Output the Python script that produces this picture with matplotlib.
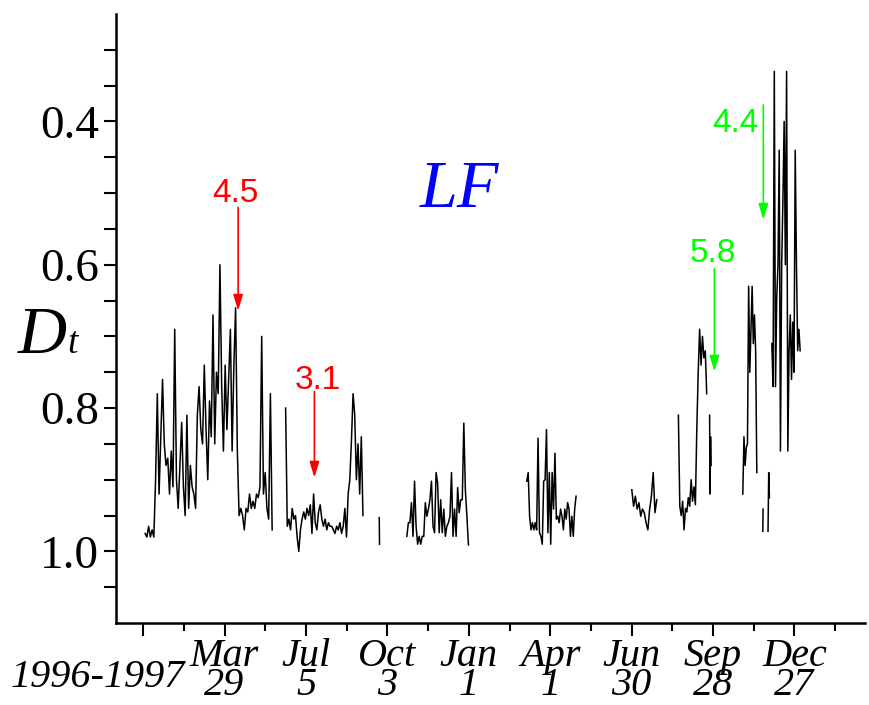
import numpy as np
import matplotlib.pyplot as plt

# D_t, one list per unbroken piece; day 0 is the first x tick
seg_a_days = (2.2, 142.6)
seg_a = [0.975, 0.98, 0.965, 0.98, 0.97, 0.98,
         0.90, 0.78, 0.92, 0.84, 0.76, 0.85, 0.88, 0.87, 0.92, 0.86, 0.91, 0.69,
         0.90, 0.94, 0.88, 0.82, 0.91, 0.95, 0.81, 0.94, 0.88, 0.91, 0.92, 0.94,
         0.81, 0.77, 0.83, 0.85, 0.74, 0.83, 0.90, 0.79, 0.84, 0.67, 0.85, 0.75,
         0.78, 0.60, 0.77, 0.86, 0.74, 0.83, 0.76, 0.69, 0.86, 0.74, 0.66, 0.86,
         0.95, 0.94, 0.95, 0.97, 0.94, 0.945, 0.92, 0.94, 0.93, 0.94, 0.92, 0.925,
         0.91, 0.70, 0.92, 0.89, 0.94, 0.955, 0.78, 0.97]

seg_c_days = (157.5, 243.0)
seg_c = [0.80, 0.965, 0.955, 0.97, 0.94, 0.955, 0.95, 0.98, 1.00, 0.97, 0.955,
         0.945, 0.955, 0.94, 0.95, 0.935, 0.975, 0.92, 0.96, 0.97, 0.945, 0.935,
         0.955, 0.965, 0.955, 0.97, 0.96, 0.965, 0.965, 0.97, 0.975, 0.965, 0.97,
         0.96, 0.975, 0.965, 0.94, 0.98, 0.92, 0.90, 0.845, 0.78, 0.81, 0.90,
         0.85, 0.92, 0.84, 0.95]

seg_d_days = (261.0, 261.3)
seg_d = [0.953, 0.99]

seg_e_days = (291.5, 359.6)
seg_e = [0.979, 0.96, 0.96, 0.932, 0.979, 0.902, 0.965, 0.99, 0.979, 0.99,
         0.979, 0.979, 0.932, 0.951, 0.941, 0.928, 0.902, 0.965, 0.974, 0.89,
         0.905, 0.974, 0.928, 0.974, 0.941, 0.979, 0.965, 0.96, 0.951, 0.89,
         0.979, 0.941, 0.979, 0.911, 0.946, 0.928, 0.928, 0.821, 0.914, 0.951,
         0.991]

seg_f_days = (424.1, 478.6)
seg_f = [0.902, 0.89, 0.951, 0.97, 0.96, 0.97, 0.96, 0.97, 0.842, 0.974, 0.979,
         0.99, 0.902, 0.90, 0.83, 0.974, 0.89, 0.99, 0.89, 0.941, 0.863, 0.955,
         0.951, 0.96, 0.941, 0.951, 0.97, 0.941, 0.955, 0.932, 0.941, 0.979,
         0.951, 0.979, 0.941, 0.923]

seg_g_days = (540.2, 567.8)
seg_g = [0.914, 0.937, 0.923, 0.941, 0.932, 0.951, 0.941, 0.946, 0.96, 0.97,
         0.941, 0.923, 0.89, 0.946, 0.928]

seg_h_days = (591.7, 623.0)
seg_h = [0.81, 0.937, 0.95, 0.93, 0.97, 0.94, 0.945, 0.925, 0.937, 0.90, 0.93,
         0.91, 0.935, 0.83, 0.75, 0.69, 0.74, 0.70, 0.73, 0.72, 0.78]

seg_i_days = (626.2, 627.8)
seg_i = [0.81, 0.92, 0.84, 0.88]

seg_j_days = (662.9, 678.4)
seg_j = [0.92, 0.84, 0.88, 0.855, 0.85, 0.63, 0.75, 0.69, 0.63, 0.71, 0.67,
         0.72, 0.89]

seg_k1_days = (685.0, 685.3)
seg_k1 = [0.972, 0.941]

seg_k2_days = (690.8, 692.3)
seg_k2 = [0.972, 0.89, 0.925]

seg_l_days = (695.0, 726.3)
seg_l = [0.71, 0.77, 0.33, 0.77, 0.645, 0.60, 0.44, 0.86, 0.60, 0.51, 0.40,
         0.60, 0.33, 0.86, 0.72, 0.67, 0.76, 0.68, 0.75, 0.44, 0.60, 0.72,
         0.69, 0.72]

segments = [(seg_a_days, seg_a), (seg_c_days, seg_c), (seg_d_days, seg_d),
            (seg_e_days, seg_e), (seg_f_days, seg_f), (seg_g_days, seg_g),
            (seg_h_days, seg_h), (seg_i_days, seg_i), (seg_j_days, seg_j),
            (seg_k1_days, seg_k1), (seg_k2_days, seg_k2), (seg_l_days, seg_l)]

tick_days = [0, 90, 180, 270, 360, 450, 540, 630, 720]
tick_labels = ["", "Mar\n29", "Jul\n5", "Oct\n3", "Jan\n1", "Apr\n1",
               "Jun\n30", "Sep\n28", "Dec\n27"]

# earthquake marks: label, day, arrow top, arrow tip, label x, label y, colour
quakes = [("4.5", 105.0, 0.52, 0.664, 102.4, 0.512, "#ff0000"),
          ("3.1", 189.3, 0.777, 0.897, 192.9, 0.774, "#ff0000"),
          ("5.8", 631.5, 0.605, 0.749, 629.5, 0.596, "#00ff00"),
          ("4.4", 685.6, 0.377, 0.537, 654.4, 0.415, "#00ff00")]

x_all, y_all = [], []
for (d0, d1), vals in segments:
    x_all += list(np.linspace(d0, d1, len(vals))) + [np.nan]
    y_all += list(vals) + [np.nan]

serif = "Liberation Serif"

fig = plt.figure(figsize=(8.69, 7.05), dpi=100)
ax = fig.add_axes([0.1335, 0.1163, 0.8619, 0.8638])

ax.plot(x_all, y_all, color="black", lw=1.1)

ax.set_xlim(-30, 798)
ax.set_ylim(1.1, 0.25)

for s in ["top", "right"]:
    ax.spines[s].set_visible(False)
for s in ["left", "bottom"]:
    ax.spines[s].set_linewidth(1.8)

ax.set_yticks([0.4, 0.6, 0.8, 1.0])
ax.set_yticklabels(["0.4", "0.6", "0.8", "1.0"], fontfamily=serif, fontsize=34)
ax.set_yticks(np.arange(0.3, 1.1, 0.05), minor=True)
ax.tick_params(axis="y", which="both", length=9, width=1.5, direction="out", pad=3)

ax.set_xticks(tick_days)
ax.set_xticklabels(tick_labels, fontfamily=serif, fontsize=29, style="italic")
ax.set_xticks(np.arange(45, 800, 90), minor=True)
ax.tick_params(axis="x", which="major", length=9.5, width=1.5, pad=1)
ax.tick_params(axis="x", which="minor", length=6, width=1.5)
for t in ax.get_xticklabels():
    t.set_linespacing(0.74)

fig.text(185 / 869, 0.0255, "1996-1997", ha="right", va="baseline",
         fontfamily=serif, fontsize=29, style="italic")

fig.text(18 / 869, 1 - 353 / 705, "D", ha="left", va="baseline",
         fontfamily=serif, fontsize=49, style="italic")
fig.text(67 / 869, 1 - 353 / 705, "t", ha="left", va="baseline",
         fontfamily=serif, fontsize=27, style="italic")

ax.text(349.3, 0.519, "LF", color="#0000ff", ha="center", va="baseline",
        fontfamily=serif, fontsize=49, style="italic")

for lab, day, top, tip, lx, ly, col in quakes:
    ax.annotate("", xy=(day, tip), xytext=(day, top),
                arrowprops=dict(arrowstyle="-|>,head_length=0.95,head_width=0.29",
                                color=col, lw=1.2, mutation_scale=10,
                                shrinkA=0, shrinkB=0))
    ax.text(lx, ly, lab, color=col, ha="center", va="baseline",
            fontfamily="Liberation Sans", fontsize=24)

fig.savefig("out.png", dpi=100)
